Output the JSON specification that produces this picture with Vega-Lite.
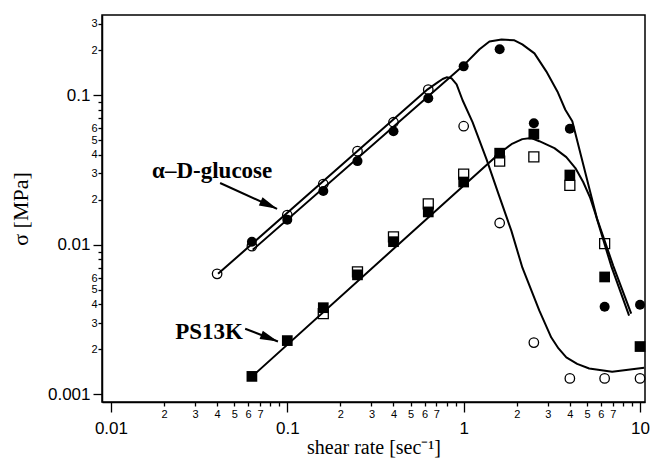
{
  "$schema": "https://vega.github.io/schema/vega-lite/v6.json",
  "width": 543,
  "height": 387,
  "autosize": {"type": "none"},
  "padding": {"left": 102, "top": 15, "right": 7, "bottom": 58},
  "background": "white",
  "config": {"view": {"stroke": "black", "strokeWidth": 1.5}, "font": "Liberation Sans"},
  "datasets": {
    "points": [
      {"s": "oc", "x": 0.04, "y": 0.0064}, {"s": "oc", "x": 0.063, "y": 0.0098}, {"s": "oc", "x": 0.1, "y": 0.0158},
      {"s": "oc", "x": 0.16, "y": 0.0255}, {"s": "oc", "x": 0.25, "y": 0.0423}, {"s": "oc", "x": 0.4, "y": 0.066},
      {"s": "oc", "x": 0.63, "y": 0.109}, {"s": "oc", "x": 1.0, "y": 0.0621}, {"s": "oc", "x": 1.6, "y": 0.014},
      {"s": "oc", "x": 2.5, "y": 0.00222}, {"s": "oc", "x": 4.0, "y": 0.00128}, {"s": "oc", "x": 6.3, "y": 0.00128},
      {"s": "oc", "x": 10, "y": 0.00128},
      {"s": "os", "x": 0.16, "y": 0.00347}, {"s": "os", "x": 0.25, "y": 0.0066}, {"s": "os", "x": 0.4, "y": 0.0113},
      {"s": "os", "x": 0.63, "y": 0.0188}, {"s": "os", "x": 1.0, "y": 0.0297}, {"s": "os", "x": 1.6, "y": 0.0363},
      {"s": "os", "x": 2.5, "y": 0.0387}, {"s": "os", "x": 4.0, "y": 0.025}, {"s": "os", "x": 6.3, "y": 0.0102},
      {"s": "fc", "x": 0.063, "y": 0.0105}, {"s": "fc", "x": 0.1, "y": 0.0147}, {"s": "fc", "x": 0.16, "y": 0.0229},
      {"s": "fc", "x": 0.25, "y": 0.0363}, {"s": "fc", "x": 0.4, "y": 0.0575}, {"s": "fc", "x": 0.63, "y": 0.0955},
      {"s": "fc", "x": 1.0, "y": 0.156}, {"s": "fc", "x": 1.6, "y": 0.203}, {"s": "fc", "x": 2.5, "y": 0.065},
      {"s": "fc", "x": 4.0, "y": 0.0597}, {"s": "fc", "x": 6.3, "y": 0.00386}, {"s": "fc", "x": 10, "y": 0.00398},
      {"s": "fs", "x": 0.063, "y": 0.00132}, {"s": "fs", "x": 0.1, "y": 0.00229}, {"s": "fs", "x": 0.16, "y": 0.0038},
      {"s": "fs", "x": 0.25, "y": 0.0063}, {"s": "fs", "x": 0.4, "y": 0.0105}, {"s": "fs", "x": 0.63, "y": 0.0166},
      {"s": "fs", "x": 1.0, "y": 0.0263}, {"s": "fs", "x": 1.6, "y": 0.041}, {"s": "fs", "x": 2.5, "y": 0.055},
      {"s": "fs", "x": 4.0, "y": 0.0293}, {"s": "fs", "x": 6.3, "y": 0.0061}, {"s": "fs", "x": 10, "y": 0.00209}
    ],
    "curves": [
      {"c": "open", "x": 0.0405, "y": 0.0064}, {"c": "open", "x": 0.625, "y": 0.1096}, {"c": "open", "x": 0.712, "y": 0.122},
      {"c": "open", "x": 0.76, "y": 0.1285}, {"c": "open", "x": 0.8, "y": 0.1318}, {"c": "open", "x": 0.854, "y": 0.1298}, {"c": "open", "x": 0.912, "y": 0.1184},
      {"c": "open", "x": 0.986, "y": 0.0926}, {"c": "open", "x": 1.123, "y": 0.0661}, {"c": "open", "x": 1.347, "y": 0.0374},
      {"c": "open", "x": 1.575, "y": 0.0219}, {"c": "open", "x": 1.865, "y": 0.0124}, {"c": "open", "x": 2.153, "y": 0.00703},
      {"c": "open", "x": 2.686, "y": 0.00363}, {"c": "open", "x": 3.14, "y": 0.0024}, {"c": "open", "x": 3.45, "y": 0.00203}, {"c": "open", "x": 3.82, "y": 0.00177},
      {"c": "open", "x": 4.4, "y": 0.0016}, {"c": "open", "x": 5.15, "y": 0.00149}, {"c": "open", "x": 6.95, "y": 0.00142}, {"c": "open", "x": 10.55, "y": 0.00151},
      {"c": "filled", "x": 0.0637, "y": 0.00926}, {"c": "filled", "x": 0.986, "y": 0.156}, {"c": "filled", "x": 1.23, "y": 0.203},
      {"c": "filled", "x": 1.4, "y": 0.229}, {"c": "filled", "x": 1.64, "y": 0.236}, {"c": "filled", "x": 1.94, "y": 0.233},
      {"c": "filled", "x": 2.15, "y": 0.219}, {"c": "filled", "x": 2.52, "y": 0.1905}, {"c": "filled", "x": 2.94, "y": 0.1445},
      {"c": "filled", "x": 3.4, "y": 0.106}, {"c": "filled", "x": 3.77, "y": 0.08}, {"c": "filled", "x": 4.13, "y": 0.0671},
      {"c": "filled", "x": 4.64, "y": 0.039}, {"c": "filled", "x": 5.15, "y": 0.024}, {"c": "filled", "x": 5.71, "y": 0.0149},
      {"c": "filled", "x": 7.05, "y": 0.00724}, {"c": "filled", "x": 8.91, "y": 0.00347},
      {"c": "ps", "x": 0.0632, "y": 0.00132}, {"c": "ps", "x": 1.598, "y": 0.041}, {"c": "ps", "x": 1.866, "y": 0.0471},
      {"c": "ps", "x": 2.15, "y": 0.0509}, {"c": "ps", "x": 2.42, "y": 0.0517}, {"c": "ps", "x": 2.685, "y": 0.0493},
      {"c": "ps", "x": 3.27, "y": 0.0443}, {"c": "ps", "x": 3.82, "y": 0.0386}, {"c": "ps", "x": 4.3, "y": 0.0326},
      {"c": "ps", "x": 4.76, "y": 0.0263}, {"c": "ps", "x": 5.22, "y": 0.0206}, {"c": "ps", "x": 5.57, "y": 0.0163},
      {"c": "ps", "x": 6.86, "y": 0.00724}, {"c": "ps", "x": 8.67, "y": 0.00336}
    ],
    "labels": [
      {"t": "α–D-glucose", "x": 0.0375, "y": 0.0311},
      {"t": "PS13K", "x": 0.036, "y": 0.00263}
    ],
    "arrows": [
      {"a": "glucose", "x": 0.0416, "y": 0.0259, "x2": 0.0875, "y2": 0.0174},
      {"a": "ps", "x": 0.0577, "y": 0.00275, "x2": 0.0885, "y2": 0.00226}
    ]
  },
  "encoding": {
    "x": {
      "field": "x", "type": "quantitative",
      "scale": {"type": "log", "domain": [0.0089, 10.67], "nice": false, "zero": false},
      "axis": {
        "title": "shear rate [sec⁻¹]",
        "values": [0.01, 0.02, 0.03, 0.04, 0.05, 0.06, 0.07, 0.08, 0.09, 0.1, 0.2, 0.3, 0.4, 0.5, 0.6, 0.7, 0.8, 0.9, 1, 2, 3, 4, 5, 6, 7, 8, 9, 10],
        "labelExpr": "abs(log(datum.value)/LN10 - round(log(datum.value)/LN10)) < 1e-6 ? format(datum.value, '~g') : (round(datum.value / pow(10, floor(log(datum.value)/LN10 + 1e-9))) <= 7 ? '' + round(datum.value / pow(10, floor(log(datum.value)/LN10 + 1e-9))) : '')",
        "labelOverlap": false, "labelFlush": false, "labelBound": false, "grid": false,
        "domainColor": "black", "domainWidth": 1.5, "tickColor": "black", "tickWidth": 1.3,
        "tickSize": {"condition": {"test": "abs(log(datum.value)/LN10 - round(log(datum.value)/LN10)) < 1e-6", "value": 10}, "value": 4},
        "labelFontSize": {"condition": {"test": "abs(log(datum.value)/LN10 - round(log(datum.value)/LN10)) < 1e-6", "value": 17}, "value": 11},
        "labelPadding": {"condition": {"test": "abs(log(datum.value)/LN10 - round(log(datum.value)/LN10)) < 1e-6", "value": 8}, "value": 2},
        "labelColor": "black", "labelFont": "Liberation Sans",
        "titleFont": "Liberation Serif", "titleFontSize": 20, "titleFontWeight": "normal", "titleColor": "#000000", "titlePadding": 1
      }
    },
    "y": {
      "field": "y", "type": "quantitative",
      "scale": {"type": "log", "domain": [0.00089, 0.344], "nice": false, "zero": false},
      "axis": {
        "title": "σ   [MPa]",
        "values": [0.001, 0.002, 0.003, 0.004, 0.005, 0.006, 0.007, 0.008, 0.009, 0.01, 0.02, 0.03, 0.04, 0.05, 0.06, 0.07, 0.08, 0.09, 0.1, 0.2, 0.3],
        "labelExpr": "abs(log(datum.value)/LN10 - round(log(datum.value)/LN10)) < 1e-6 ? format(datum.value, '~g') : (round(datum.value / pow(10, floor(log(datum.value)/LN10 + 1e-9))) <= 6 ? '' + round(datum.value / pow(10, floor(log(datum.value)/LN10 + 1e-9))) : '')",
        "labelOverlap": false, "labelFlush": false, "labelBound": false, "grid": false,
        "domainColor": "black", "domainWidth": 1.5, "tickColor": "black", "tickWidth": 1.3,
        "tickSize": {"condition": {"test": "abs(log(datum.value)/LN10 - round(log(datum.value)/LN10)) < 1e-6", "value": 9}, "value": 4},
        "labelFontSize": {"condition": {"test": "abs(log(datum.value)/LN10 - round(log(datum.value)/LN10)) < 1e-6", "value": 17}, "value": 11},
        "labelPadding": {"condition": {"test": "abs(log(datum.value)/LN10 - round(log(datum.value)/LN10)) < 1e-6", "value": 3}, "value": 1},
        "labelColor": "black", "labelFont": "Liberation Sans",
        "titleFont": "Liberation Serif", "titleFontSize": 22, "titleFontWeight": "normal", "titleColor": "#000000", "titlePadding": 15
      }
    }
  },
  "layer": [
    {
      "data": {"name": "points"},
      "transform": [{"filter": "datum.s == 'os'"}],
      "mark": {"type": "point", "shape": "square", "size": 100, "filled": true, "fill": "white", "stroke": "black", "strokeWidth": 1.3, "opacity": 1}
    },
    {
      "data": {"name": "points"},
      "transform": [{"filter": "datum.s == 'oc'"}],
      "mark": {"type": "point", "shape": "circle", "size": 90, "filled": true, "fill": "white", "stroke": "black", "strokeWidth": 1.3, "opacity": 1}
    },
    {
      "data": {"name": "curves"},
      "mark": {"type": "line", "color": "black", "strokeWidth": 2, "interpolate": "linear", "strokeJoin": "round"},
      "encoding": {"detail": {"field": "c"}}
    },
    {
      "data": {"name": "points"},
      "transform": [{"filter": "datum.s == 'fs'"}],
      "mark": {"type": "point", "shape": "square", "size": 115, "filled": true, "color": "black", "opacity": 1}
    },
    {
      "data": {"name": "points"},
      "transform": [{"filter": "datum.s == 'fc'"}],
      "mark": {"type": "point", "shape": "circle", "size": 100, "filled": true, "color": "black", "opacity": 1}
    },
    {
      "data": {"name": "arrows"},
      "mark": {"type": "rule", "color": "black", "strokeWidth": 2},
      "encoding": {"x2": {"field": "x2"}, "y2": {"field": "y2"}}
    },
    {
      "data": {"name": "arrows"},
      "transform": [{"filter": "datum.a == 'glucose'"}],
      "mark": {"type": "point", "shape": "M0,0L-2,-0.5L-2,0.5Z", "size": 324, "filled": true, "color": "black", "opacity": 1, "angle": 24.5},
      "encoding": {"x": {"field": "x2", "type": "quantitative"}, "y": {"field": "y2", "type": "quantitative"}}
    },
    {
      "data": {"name": "arrows"},
      "transform": [{"filter": "datum.a == 'ps'"}],
      "mark": {"type": "point", "shape": "M0,0L-2,-0.5L-2,0.5Z", "size": 324, "filled": true, "color": "black", "opacity": 1, "angle": 21.5},
      "encoding": {"x": {"field": "x2", "type": "quantitative"}, "y": {"field": "y2", "type": "quantitative"}}
    },
    {
      "data": {"name": "labels"},
      "mark": {"type": "text", "font": "Liberation Serif", "fontSize": 23, "fontWeight": "bold", "align": "center", "baseline": "middle", "color": "black"},
      "encoding": {"text": {"field": "t"}}
    }
  ]
}
